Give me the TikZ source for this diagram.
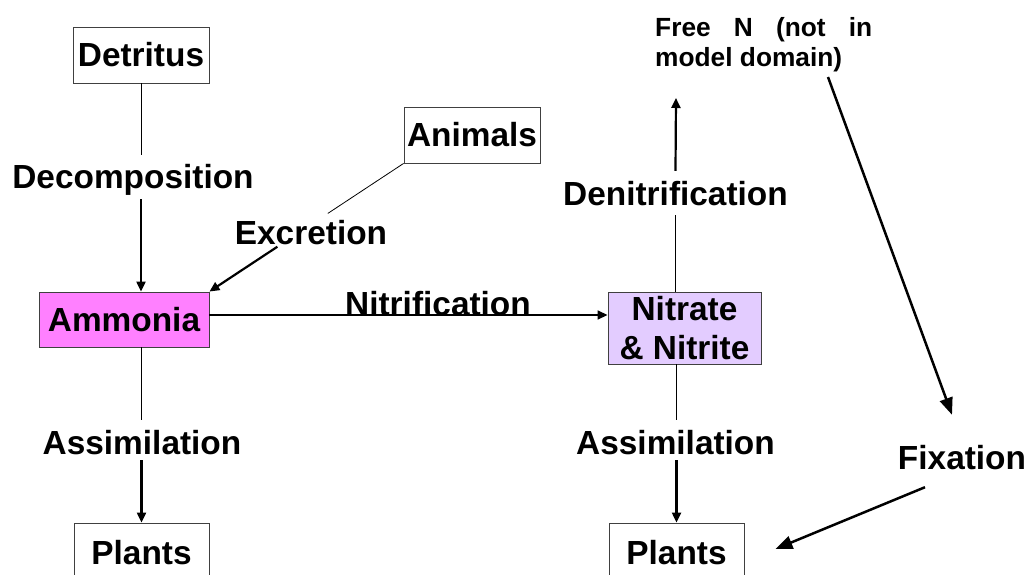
\documentclass[tikz,border=0pt]{standalone}
\usepackage{fontspec}
\setmainfont{Liberation Sans}
\usetikzlibrary{arrows.meta,calc}
\definecolor{ammfill}{HTML}{FF80FF}
\definecolor{nitfill}{HTML}{E3CCFF}
\definecolor{boxline}{HTML}{404040}
\begin{document}
\begin{tikzpicture}[x=1pt,y=-1pt,
  box/.style={draw=boxline,line width=0.9pt,inner sep=0pt,align=center,
    font=\fontsize{33.4}{39}\selectfont\bfseries},
  lbl/.style={inner xsep=0pt,inner ysep=10pt,text height=24pt,text depth=0pt,
    font=\fontsize{33.4}{39}\selectfont\bfseries},
  thinln/.style={line width=0.8pt},
  arr/.style={line width=2.2pt,-{Triangle[length=10pt,width=9pt]}},
  arrbig/.style={line width=2.5pt,-{Triangle[length=17pt,width=13pt]}}]
\useasboundingbox[fill=white] (0,0) rectangle (1026,575);
% boxes
\node[box,minimum width=136pt,minimum height=56pt] (det) at (141,55) {Detritus};
\node[box,minimum width=136pt,minimum height=56pt] (ani) at (472,135) {Animals};
\node[box,fill=ammfill,minimum width=170pt,minimum height=55pt] (amm) at (124,319.5) {Ammonia};
\node[box,fill=nitfill,minimum width=153pt,minimum height=72pt] (nit) at (684.5,328) {Nitrate\\\& Nitrite};
\node[box,minimum width=135pt,minimum height=60pt] (pl1) at (141.5,553) {Plants};
\node[box,minimum width=135pt,minimum height=60pt] (pl2) at (676.5,553) {Plants};
% labels
\node[lbl] (dec) at (133,177) {Decomposition};
\node[lbl] (exc) at (311,232) {Excretion};
\node[lbl] (ntf) at (438,303) {Nitrification};
\node[lbl] (den) at (675.5,193) {Denitrification};
\node[lbl] (as1) at (142,442) {Assimilation};
\node[lbl] (as2) at (675.5,442) {Assimilation};
\node[lbl] (fix) at (962,457) {Fixation};
\node[inner sep=0pt,text width=217pt,align=justify,anchor=north west,
  font=\fontsize{26.3}{30}\selectfont\bfseries] (free) at (655,17)
  {Free N (not in model domain)};
\coordinate (dtip) at (676,98);
\coordinate (fs) at (828,77);
% connectors
\draw[thinln] (det.south) -- ([xshift=8pt]dec.north);
\draw[arr] ([xshift=8pt]dec.south) -- (amm.north -| det.south);
\draw[thinln] (ani.south west) -- ($(ani.south west)!0.39!(amm.north east)$);
\draw[arr] ($(ani.south west)!0.65!(amm.north east)$) -- (amm.north east);
\draw[line width=1.6pt,-{Triangle[length=10pt,width=9pt]}] ([yshift=4.5pt]amm.east) -- ([yshift=13pt]nit.west);
\draw[thinln] (nit.north -| den.south) -- (den.south);
\draw[arr] (den.north) -- (dtip);
\draw[thinln] (amm.south -| pl1.north) -- (as1.north -| pl1.north);
\draw[arr] ([yshift=4pt]as1.south -| pl1.north) -- (pl1.north);
\draw[thinln] (nit.south -| pl2.north) -- (as2.north -| pl2.north);
\draw[arr] ([yshift=4pt]as2.south -| pl2.north) -- (pl2.north);
\draw[arrbig] (fs) -- ([xshift=-10pt,yshift=20pt]fix.north);
\draw[arrbig] ([xshift=-37pt,yshift=-8pt]fix.south) -- ([xshift=31pt,yshift=4pt]pl2.east);
\end{tikzpicture}
\end{document}
